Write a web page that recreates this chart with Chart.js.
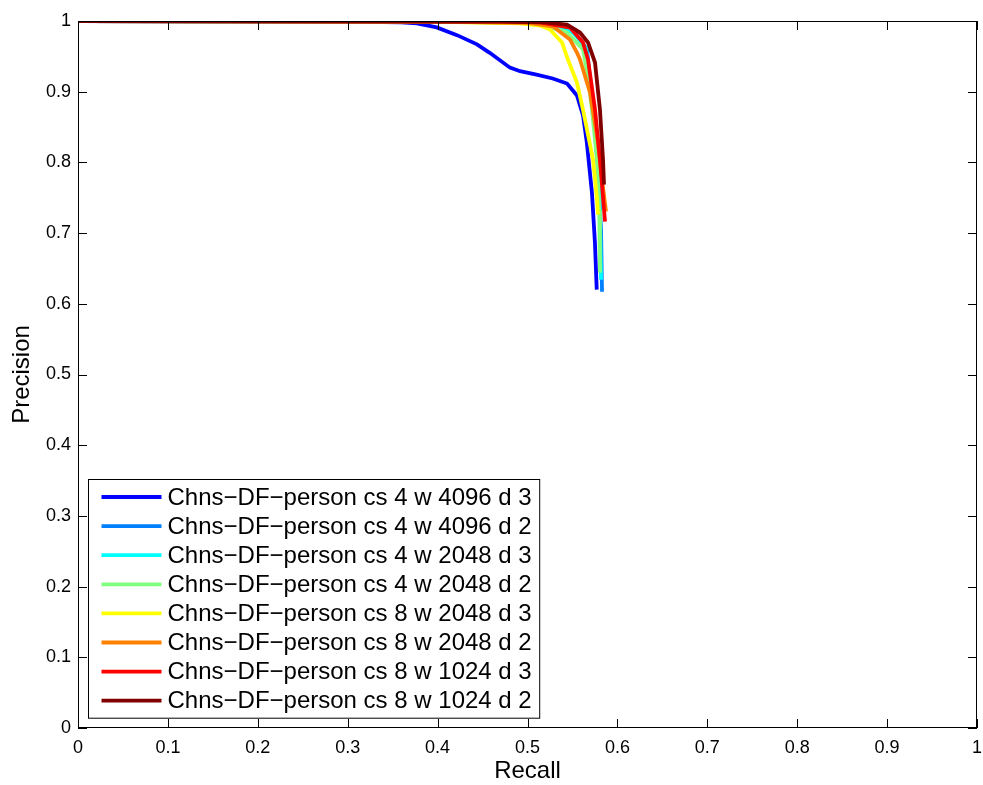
<!DOCTYPE html>
<html><head><meta charset="utf-8">
<script src="https://cdn.jsdelivr.net/npm/chart.js@4.4.1/dist/chart.umd.min.js"></script>
<style>html,body{margin:0;padding:0;background:#fff;}#wrap{width:983px;height:785px;}</style>
</head><body><div id="wrap"><canvas id="c" width="983" height="785"></canvas></div>
<script>
const xTicks = [0,0.1,0.2,0.3,0.4,0.5,0.6,0.7,0.8,0.9,1];
const xTickLabels = ['0','0.1','0.2','0.3','0.4','0.5','0.6','0.7','0.8','0.9','1'];
const yTicks = [0,0.1,0.2,0.3,0.4,0.5,0.6,0.7,0.8,0.9,1];
const yTickLabels = ['0','0.1','0.2','0.3','0.4','0.5','0.6','0.7','0.8','0.9','1'];

const seriesNames = [
  'Chns\u2212DF\u2212person cs 4 w 4096 d 3',
  'Chns\u2212DF\u2212person cs 4 w 4096 d 2',
  'Chns\u2212DF\u2212person cs 4 w 2048 d 3',
  'Chns\u2212DF\u2212person cs 4 w 2048 d 2',
  'Chns\u2212DF\u2212person cs 8 w 2048 d 3',
  'Chns\u2212DF\u2212person cs 8 w 2048 d 2',
  'Chns\u2212DF\u2212person cs 8 w 1024 d 3',
  'Chns\u2212DF\u2212person cs 8 w 1024 d 2'
];
const seriesColors = ['#0000FF','#0080FF','#00FFFF','#80FF80','#FFFF00','#FF8000','#FF0000','#800000'];

const recall_cs4_w4096_d3    = [0, 0.10, 0.20, 0.30, 0.36, 0.377, 0.399, 0.4216, 0.4438, 0.458, 0.4805, 0.4917, 0.51, 0.528, 0.544, 0.555, 0.5617, 0.566, 0.5717, 0.575, 0.577];
const precision_cs4_w4096_d3 = [1.0, 0.9995, 0.999, 0.999, 0.998, 0.9965, 0.991, 0.980, 0.967, 0.955, 0.934, 0.929, 0.924, 0.9187, 0.9115, 0.8947, 0.8669, 0.828, 0.757, 0.6865, 0.62];

const recall_cs4_w4096_d2    = [0, 0.2, 0.4, 0.47, 0.52, 0.5528, 0.5662, 0.5695, 0.574, 0.5784, 0.5818, 0.5829];
const precision_cs4_w4096_d2 = [1, 0.9995, 0.999, 0.998, 0.996, 0.9837, 0.9597, 0.917, 0.8606, 0.79, 0.705, 0.617];

const recall_cs4_w2048_d3    = [0, 0.2, 0.4, 0.47, 0.5195, 0.5495, 0.565, 0.5695, 0.574, 0.5784, 0.5806, 0.5818];
const precision_cs4_w2048_d3 = [1, 0.9995, 0.999, 0.998, 0.996, 0.985, 0.9625, 0.9214, 0.8747, 0.804, 0.719, 0.634];

const recall_cs4_w2048_d2    = [0, 0.2, 0.4, 0.46, 0.5139, 0.5439, 0.5617, 0.5673, 0.5717, 0.5773, 0.5798, 0.5806];
const precision_cs4_w2048_d2 = [1, 0.9995, 0.999, 0.998, 0.996, 0.9837, 0.9597, 0.9214, 0.8747, 0.804, 0.7332, 0.644];

const recall_cs8_w2048_d3    = [0, 0.2, 0.4, 0.43, 0.4917, 0.5139, 0.525, 0.5384, 0.545, 0.555, 0.5617, 0.5662, 0.5729, 0.5773, 0.5784];
const precision_cs8_w2048_d3 = [1, 0.9995, 0.999, 0.998, 0.9965, 0.9936, 0.988, 0.9696, 0.9455, 0.913, 0.8747, 0.8464, 0.804, 0.7473, 0.726];

const recall_cs8_w2048_d2    = [0, 0.2, 0.4, 0.45, 0.5028, 0.5284, 0.5473, 0.555, 0.5584, 0.5695, 0.5784, 0.5829, 0.5873];
const precision_cs8_w2048_d2 = [1, 0.9995, 0.999, 0.998, 0.997, 0.9922, 0.9738, 0.9554, 0.9455, 0.8988, 0.828, 0.7757, 0.7304];

const recall_cs8_w1024_d3    = [0, 0.2, 0.4, 0.47, 0.514, 0.5473, 0.5617, 0.5673, 0.5751, 0.5806, 0.5862];
const precision_cs8_w1024_d3 = [1, 0.9995, 0.999, 0.999, 0.998, 0.9908, 0.9696, 0.9455, 0.8747, 0.804, 0.7162];

const recall_cs8_w1024_d2    = [0, 0.2, 0.4, 0.47, 0.5195, 0.5439, 0.5584, 0.5673, 0.5751, 0.5806, 0.584, 0.5851];
const precision_cs8_w1024_d2 = [1, 0.9995, 0.999, 0.9993, 0.998, 0.995, 0.9837, 0.9696, 0.9413, 0.8747, 0.804, 0.7686];

const recalls = [recall_cs4_w4096_d3, recall_cs4_w4096_d2, recall_cs4_w2048_d3, recall_cs4_w2048_d2, recall_cs8_w2048_d3, recall_cs8_w2048_d2, recall_cs8_w1024_d3, recall_cs8_w1024_d2];
const precisions = [precision_cs4_w4096_d3, precision_cs4_w4096_d2, precision_cs4_w2048_d3, precision_cs4_w2048_d2, precision_cs8_w2048_d3, precision_cs8_w2048_d2, precision_cs8_w1024_d3, precision_cs8_w1024_d2];

const FONT = '"Liberation Sans", Arial, Helvetica, sans-serif';

const datasets = seriesNames.map((name, i) => ({
  label: name,
  data: recalls[i].map((r, k) => ({x: r, y: precisions[i][k]})),
  borderColor: seriesColors[i],
  backgroundColor: seriesColors[i],
  borderWidth: 3.8,
  pointRadius: 0,
  tension: 0,
  fill: false,
  order: seriesNames.length - i
}));

const framePlugin = {
  id: 'frame',
  afterDatasetsDraw(chart) {
    const {ctx, chartArea: a, scales: {x, y}} = chart;
    ctx.save();
    ctx.strokeStyle = '#000';
    ctx.lineWidth = 1;
    ctx.beginPath();
    const L = 9;
    xTicks.forEach(v => {
      const px = Math.round(x.getPixelForValue(v)) + 0.5;
      ctx.moveTo(px, a.bottom); ctx.lineTo(px, a.bottom - L);
      ctx.moveTo(px, a.top); ctx.lineTo(px, a.top + L);
    });
    yTicks.forEach(v => {
      const py = Math.round(y.getPixelForValue(v)) + 0.5;
      ctx.moveTo(a.left, py); ctx.lineTo(a.left + L, py);
      ctx.moveTo(a.right, py); ctx.lineTo(a.right - L, py);
    });
    ctx.stroke();
    ctx.strokeRect(Math.round(a.left) + 0.5, Math.round(a.top) + 0.5, Math.round(a.right - a.left) - 1, Math.round(a.bottom - a.top) - 1);
    ctx.restore();
  },
  afterDraw(chart) {
    const {ctx, chartArea: a} = chart;
    ctx.save();
    ctx.font = '24px ' + FONT;
    let maxW = 0;
    seriesNames.forEach(n => { maxW = Math.max(maxW, ctx.measureText(n).width); });
    const padL = 13, sample = 60, gap = 6, padR = 8, rowH = 29.1, padTB = 17.5;
    const w = padL + sample + gap + maxW + padR;
    const h = padTB * 2 + rowH * (seriesNames.length - 1);
    const bx = Math.round(a.left + 10) + 0.5;
    const by = Math.round(a.bottom - 10 - h) + 0.5;
    ctx.fillStyle = '#fff';
    ctx.fillRect(bx, by, w, h);
    ctx.strokeStyle = '#000';
    ctx.lineWidth = 1;
    ctx.strokeRect(bx, by, w, h);
    ctx.textBaseline = 'middle';
    ctx.textAlign = 'left';
    seriesNames.forEach((n, i) => {
      const cy = by + padTB + rowH * i;
      ctx.strokeStyle = seriesColors[i];
      ctx.lineWidth = 3.8;
      ctx.beginPath();
      ctx.moveTo(bx + padL, cy); ctx.lineTo(bx + padL + sample, cy);
      ctx.stroke();
      ctx.fillStyle = '#000';
      ctx.fillText(n, bx + padL + sample + gap, cy + 1);
    });
    ctx.restore();
  }
};

new Chart(document.getElementById('c'), {
  type: 'line',
  data: { datasets },
  options: {
    responsive: false,
    animation: false,
    devicePixelRatio: 1,
    layout: { autoPadding: false, padding: { top: 21, right: 6, left: 0, bottom: 0 } },
    plugins: { legend: { display: false }, tooltip: { enabled: false } },
    scales: {
      x: {
        type: 'linear', min: 0, max: 1,
        grid: { display: false, drawTicks: false },
        border: { display: false },
        afterBuildTicks: s => { s.ticks = xTicks.map(v => ({value: v})); },
        afterFit: s => { s.height = 57; s.paddingLeft = 0; s.paddingRight = 0; },
        ticks: { color: '#000', font: { family: FONT, size: 18 }, padding: 9.5, maxRotation: 0, autoSkip: false,
                 callback: (v, i) => xTickLabels[i] },
        title: { display: true, text: 'Recall', color: '#000', font: { family: FONT, size: 24, lineHeight: 1.1 }, padding: { top: 0, bottom: 0 } }
      },
      y: {
        type: 'linear', min: 0, max: 1,
        grid: { display: false, drawTicks: false },
        border: { display: false },
        afterBuildTicks: s => { s.ticks = yTicks.map(v => ({value: v})); },
        afterFit: s => { s.width = 78; s.paddingTop = 0; s.paddingBottom = 0; },
        ticks: { color: '#000', font: { family: FONT, size: 18 }, padding: 7, autoSkip: false,
                 callback: (v, i) => yTickLabels[i] },
        title: { display: true, text: 'Precision', color: '#000', font: { family: FONT, size: 24, lineHeight: 1.1 }, padding: { top: 9, bottom: 0 } }
      }
    }
  },
  plugins: [framePlugin]
});
</script>
</body></html>
